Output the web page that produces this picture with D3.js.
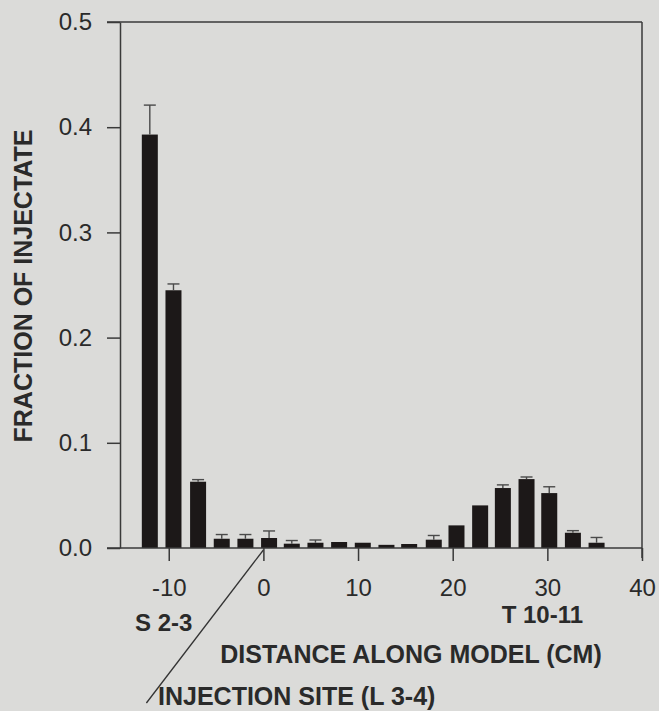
<!DOCTYPE html>
<html>
<head>
<meta charset="utf-8">
<script src="https://cdn.jsdelivr.net/npm/d3@7"></script>
<style>
  html, body { margin: 0; padding: 0; background: #dbdbd9; }
  svg { display: block; }
  text { font-family: "Liberation Sans", Arial, Helvetica, sans-serif; fill: #2a2a2a; }
</style>
</head>
<body>
<div id="graph"></div>
<script>
// donnees
const positions = [-12, -9.5, -6.9, -4.4, -1.9, 0.6, 3.0, 5.5, 8.0, 10.5,
                   13.0, 15.4, 18.0, 20.4, 22.9, 25.3, 27.8, 30.2, 32.7, 35.2];
const fractions = [0.393, 0.245, 0.063, 0.0088, 0.0088, 0.0095, 0.0041, 0.005, 0.0057, 0.005,
                   0.003, 0.0038, 0.0079, 0.0215, 0.0405, 0.057, 0.0655, 0.0522, 0.0145, 0.005];
const errors    = [0.028, 0.006, 0.002, 0.004, 0.004, 0.0067, 0.003, 0.0026, 0, 0,
                   0, 0, 0.004, 0, 0, 0.003, 0.002, 0.006, 0.002, 0.005];
const xTicks = [-10, 0, 10, 20, 30, 40];
const yTicks = [0.0, 0.1, 0.2, 0.3, 0.4, 0.5];

// constantes
const w = 659;
const h = 711;
const gauche = 120, droite = 642, haut = 22, bas = 548;
const barWidth = 16;

const data = positions.map((p, i) => ({pos: p, value: fractions[i], err: errors[i]}));

// svg
const svg = d3.select("#graph")
    .append("svg")
    .attr("width", w)
    .attr("height", h);

// echelles
let xScale = d3.scaleLinear()
    .domain([-15.15, 40])
    .range([gauche, droite]);

let yScale = d3.scaleLinear()
    .domain([0, 0.5])
    .range([bas, haut]);

// cadre : haut et droite
svg.append("line")
    .attr("x1", gauche - 13).attr("x2", droite)
    .attr("y1", haut).attr("y2", haut)
    .attr("stroke", "#3a3a3a").attr("stroke-width", 1.5);

svg.append("line")
    .attr("x1", droite).attr("x2", droite)
    .attr("y1", haut).attr("y2", bas + 10)
    .attr("stroke", "#3a3a3a").attr("stroke-width", 1.5);

// barres
svg.selectAll("rect.barre")
    .data(data)
    .enter()
    .append("rect")
    .attr("class", "barre")
    .attr("x", d => xScale(d.pos) - barWidth / 2)
    .attr("y", d => yScale(d.value))
    .attr("width", barWidth)
    .attr("height", d => yScale(0) - yScale(d.value))
    .attr("fill", "#1c1818");

// barres d'erreur
let erreurs = svg.selectAll("g.err")
    .data(data.filter(d => d.err > 0))
    .enter()
    .append("g")
    .attr("class", "err")
    .attr("stroke", "#4a4a4a")
    .attr("stroke-width", 1.4);

erreurs.append("line")
    .attr("x1", d => xScale(d.pos)).attr("x2", d => xScale(d.pos))
    .attr("y1", d => yScale(d.value)).attr("y2", d => yScale(d.value + d.err));

erreurs.append("line")
    .attr("x1", d => xScale(d.pos) - 6).attr("x2", d => xScale(d.pos) + 6)
    .attr("y1", d => yScale(d.value + d.err)).attr("y2", d => yScale(d.value + d.err));

// axes
let axeX = d3.axisBottom(xScale)
    .tickValues(xTicks)
    .tickFormat(d => String(d))   // tiret simple comme sur la figure
    .tickSize(13)
    .tickPadding(18)
    .tickSizeOuter(0);

let axeY = d3.axisLeft(yScale)
    .tickValues(yTicks)
    .tickFormat(d3.format(".1f"))
    .tickSize(13)
    .tickPadding(15)
    .tickSizeOuter(0);

let gx = svg.append("g")
    .attr("transform", "translate(0," + bas + ")")
    .call(axeX);

let gy = svg.append("g")
    .attr("transform", "translate(" + gauche + ",0)")
    .call(axeY);

// l'axe x depasse a gauche jusqu'au tick 0.0
gx.select(".domain").attr("d", "M" + (gauche - 13) + ",0H" + droite);

[gx, gy].forEach(g => {
    g.selectAll("path, line").attr("stroke", "#3a3a3a").attr("stroke-width", 1.5);
    g.selectAll("text")
        .attr("font-family", "Liberation Sans, Arial, sans-serif")
        .attr("font-size", "24px")
        .attr("fill", "#333");
});

// titres
svg.append("text")
    .attr("transform", "translate(32,286) rotate(-90)")
    .attr("text-anchor", "middle")
    .attr("font-size", "25px")
    .attr("font-weight", "bold")
    .text("FRACTION OF INJECTATE");

svg.append("text")
    .attr("x", (gauche + droite) / 2 + 30)
    .attr("y", 663)
    .attr("text-anchor", "middle")
    .attr("font-size", "25px")
    .attr("font-weight", "bold")
    .text("DISTANCE ALONG MODEL (CM)");

svg.append("text")
    .attr("x", xScale(-10) - 5)
    .attr("y", 631)
    .attr("text-anchor", "middle")
    .attr("font-size", "24px")
    .attr("font-weight", "bold")
    .text("S 2-3");

svg.append("text")
    .attr("x", xScale(30) - 5)
    .attr("y", 623)
    .attr("text-anchor", "middle")
    .attr("font-size", "24px")
    .attr("font-weight", "bold")
    .text("T 10-11");

// site d'injection
svg.append("line")
    .attr("x1", xScale(0)).attr("y1", bas + 2)
    .attr("x2", xScale(0) - 117).attr("y2", 703)
    .attr("stroke", "#333")
    .attr("stroke-width", 1.3);

svg.append("text")
    .attr("x", 158)
    .attr("y", 705)
    .attr("font-size", "25px")
    .attr("font-weight", "bold")
    .text("INJECTION SITE (L 3-4)");
</script>
</body>
</html>
